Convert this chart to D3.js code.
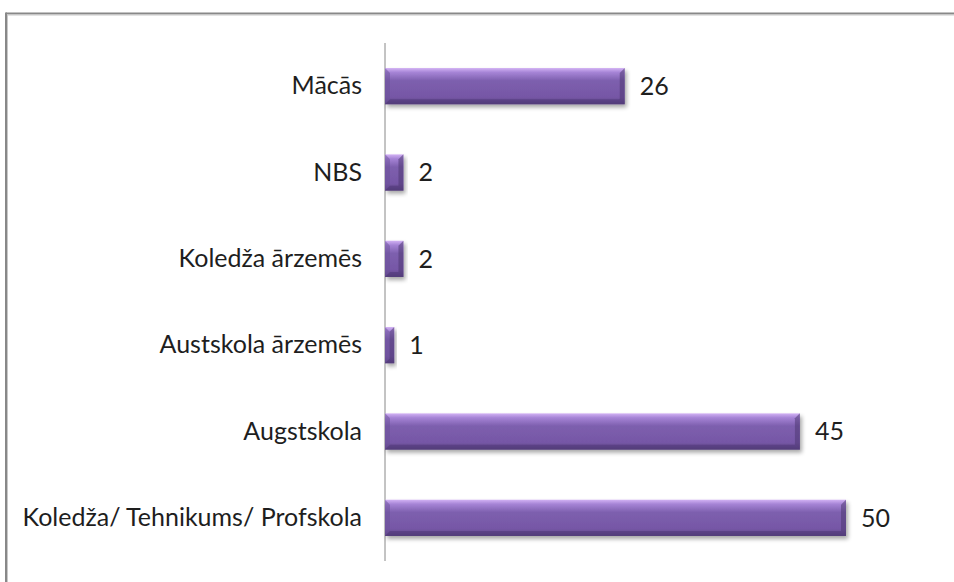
<!DOCTYPE html>
<html>
<head>
<meta charset="utf-8">
<script src="https://cdn.jsdelivr.net/npm/d3@7"></script>
<style>
  body { margin: 0; background: #fff; }
  svg text { font-family: Lato, "Open Sans", sans-serif; fill: #1e1e1e; }
</style>
</head>
<body>
<div id="chart"></div>
<script>
var categories = ["Mācās", "NBS", "Koledža ārzemēs", "Austskola ārzemēs", "Augstskola", "Koledža/ Tehnikums/ Profskola"];
var values = [26, 2, 2, 1, 45, 50];

var W = 954, H = 582;
var margin = {top: 43, bottom: 21, left: 385, right: 108};
var width = W - margin.left - margin.right;
var height = H - margin.top - margin.bottom;

var svg = d3.select("#chart").append("svg")
    .attr("width", W)
    .attr("height", H);

// chart frame (only top and left edges show in the picture)
svg.append("line").attr("x1", 6).attr("x2", W).attr("y1", 13.5).attr("y2", 13.5)
    .attr("stroke", "#888").attr("stroke-width", 2);
svg.append("line").attr("x1", 6).attr("x2", W).attr("y1", 15).attr("y2", 15)
    .attr("stroke", "#c8c8c8").attr("stroke-width", 1);
svg.append("line").attr("x1", 6).attr("x2", 6).attr("y1", 12.5).attr("y2", H)
    .attr("stroke", "#888").attr("stroke-width", 2);
svg.append("line").attr("x1", 7.5).attr("x2", 7.5).attr("y1", 14).attr("y2", H)
    .attr("stroke", "#c8c8c8").attr("stroke-width", 1);

var defs = svg.append("defs");
var grad = defs.append("linearGradient").attr("id", "barGrad")
    .attr("x1", 0).attr("y1", 0).attr("x2", 0).attr("y2", 1);
grad.append("stop").attr("offset", "0%").attr("stop-color", "#d2b2f4");
grad.append("stop").attr("offset", "12%").attr("stop-color", "#a684d6");
grad.append("stop").attr("offset", "35%").attr("stop-color", "#7d5fae");
grad.append("stop").attr("offset", "80%").attr("stop-color", "#7657a6");
grad.append("stop").attr("offset", "100%").attr("stop-color", "#5a4280");

var shadow = defs.append("filter").attr("id", "shadow")
    .attr("x", "-10%").attr("y", "-20%").attr("width", "130%").attr("height", "160%");
shadow.append("feGaussianBlur").attr("in", "SourceAlpha").attr("stdDeviation", 2.2);
shadow.append("feOffset").attr("dx", 2).attr("dy", 3).attr("result", "b");
shadow.append("feComponentTransfer").append("feFuncA").attr("type", "linear").attr("slope", 0.35);
var merge = shadow.append("feMerge");
merge.append("feMergeNode");
merge.append("feMergeNode").attr("in", "SourceGraphic");

var g = svg.append("g").attr("transform", "translate(" + margin.left + "," + margin.top + ")");

var x = d3.scaleLinear().domain([0, 50]).range([0, 461]);
var y = d3.scaleBand().domain(categories).range([0, height]).paddingInner(0.58).paddingOuter(0.29);

var yAxis = d3.axisLeft(y).tickSize(0).tickPadding(23);
var ax = g.append("g").call(yAxis);
ax.select(".domain").remove();
ax.selectAll("text").style("font-size", "25px").style("font-family", "Lato, sans-serif").attr("fill", "#1e1e1e");

g.append("line").attr("x1", 0).attr("x2", 0).attr("y1", 0).attr("y2", height)
    .attr("stroke", "#888").attr("stroke-width", 1);

var bars = g.selectAll(".bar").data(values).enter().append("g").attr("class", "bar")
    .attr("transform", function(d, i) { return "translate(0," + y(categories[i]) + ")"; });

var bh = y.bandwidth();
var bev = 5;

bars.append("rect")
    .attr("x", 0).attr("y", 0)
    .attr("width", function(d) { return x(d); })
    .attr("height", bh)
    .attr("fill", "url(#barGrad)")
    .attr("filter", "url(#shadow)");

// bevel edges
bars.append("path")
    .attr("d", function(d) {
        var w = x(d), b = Math.min(bev, w / 2);
        return "M0,0L" + b + "," + b + "L" + b + "," + (bh - b) + "L0," + bh + "Z";
    })
    .attr("fill", "#6a4f98").attr("opacity", 0.5);
bars.append("path")
    .attr("d", function(d) {
        var w = x(d), b = Math.min(bev, w / 2);
        return "M" + w + ",0L" + (w - b) + "," + b + "L" + (w - b) + "," + (bh - b) + "L" + w + "," + bh + "Z";
    })
    .attr("fill", "#4e3872").attr("opacity", 0.55);
bars.append("path")
    .attr("d", function(d) {
        var w = x(d), b = Math.min(bev, w / 2);
        return "M0," + bh + "L" + b + "," + (bh - b) + "L" + (w - b) + "," + (bh - b) + "L" + w + "," + bh + "Z";
    })
    .attr("fill", "#4a3470").attr("opacity", 0.45);

bars.append("text")
    .attr("x", function(d) { return x(d) + 15; })
    .attr("y", bh / 2)
    .attr("dy", "0.35em")
    .style("font-size", "25px")
    .text(function(d) { return d; });
</script>
</body>
</html>
